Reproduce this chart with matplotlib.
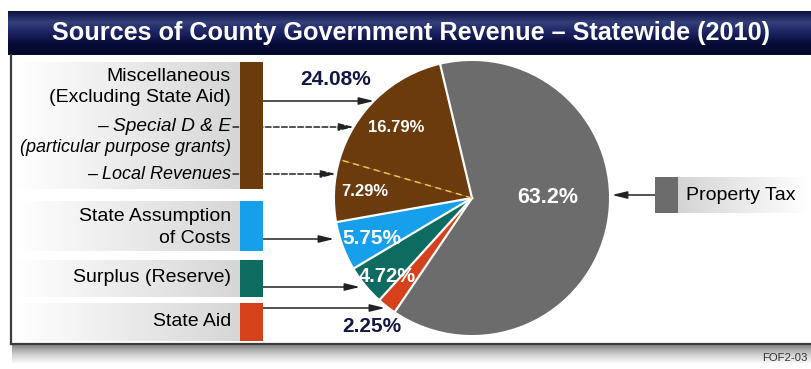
import numpy as np
import matplotlib.pyplot as plt
from matplotlib.colors import LinearSegmentedColormap

W, H = 812, 369

# revenue shares in %, listed clockwise round the pie from the top
sources = ['Property Tax', 'State Aid', 'Surplus (Reserve)',
           'State Assumption of Costs', 'Local Revenues', 'Special D & E']
shares = [63.2, 2.25, 4.72, 5.75, 7.29, 16.79]
misc_total = 24.08   # Special D & E + Local Revenues
colors = ['#6c6c6c', '#d4411b', '#0e6b5f', '#16a0ec', '#6b3a0d', '#6b3a0d']

title = 'Sources of County Government Revenue \u2013 Statewide (2010)'
plain = ['Liberation Sans', 'DejaVu Sans']


def Y(y):
    # pixel rows run downward, the axes run upward
    return H - y


def gradient(ax, x0, x1, y0, y1, stops, vertical=False, z=1):
    ramp = np.linspace(0, 1, 256)
    img = ramp[:, None] if vertical else ramp[None, :]
    cmap = LinearSegmentedColormap.from_list('g', stops)
    ax.imshow(img, cmap=cmap, extent=(x0, x1, Y(y1), Y(y0)), aspect='auto',
              interpolation='bilinear', zorder=z)


fig = plt.figure(figsize=(W / 100, H / 100), dpi=100)
ax = fig.add_axes([0, 0, 1, 1])

# pie
cx, cy, r = 472, 198, 137
start = 103.4
ax.pie(shares, colors=colors, startangle=start, counterclock=False,
       center=(cx, Y(cy)), radius=r, wedgeprops=dict(linewidth=0, zorder=3))

# slice borders: white, dashed yellow between the two Miscellaneous parts
bounds = start - np.cumsum([0] + shares[:-1]) * 3.6
for i, a in enumerate(bounds):
    t = np.radians(a)
    xs = [cx, cx + r * np.cos(t)]
    ys = [Y(cy), Y(cy) + r * np.sin(t)]
    if sources[i] == 'Special D & E':
        ax.plot(xs, ys, color='#f2c24a', lw=1.1, ls=(0, (4, 3)), zorder=4)
    else:
        ax.plot(xs, ys, color='white', lw=1.6, zorder=4)

# title bar
gradient(ax, 8, W, 11, 55, ['#0c1040', '#343f7a', '#1a2260', '#080b35', '#05082a'],
         vertical=True, z=2)
ax.text(411, Y(33), title, color='white', fontsize=18.2, fontweight='bold',
        family=plain, ha='center', va='center', zorder=5)

# panel frame and its shadow
gradient(ax, 12, W, 345, 364, ['#858585', '#d0d0d0', '#ffffff'], vertical=True, z=1)
ax.plot([11, 11], [Y(55), Y(344)], color='#3c3c3c', lw=1.6, zorder=5)
ax.plot([11, W], [Y(344), Y(344)], color='#3c3c3c', lw=1.6, zorder=5)

# left-hand key: gradient boxes, colour swatches, text
rows = [(62, 189, colors[5]), (201, 251, colors[3]), (260, 297, colors[2]), (303, 341, colors[1])]
for y0, y1, c in rows:
    gradient(ax, 16, 240, y0, y1, ['#ffffff', '#d6d6d6'], z=1)
    ax.fill_between([240, 263], Y(y1), Y(y0), color=c, lw=0, zorder=2)

tx = 231
ax.text(tx, Y(76), 'Miscellaneous', fontsize=14, family=plain, ha='right', va='center', zorder=5)
ax.text(tx, Y(97), '(Excluding State Aid)', fontsize=14, family=plain, ha='right', va='center', zorder=5)
ax.text(tx, Y(126), '\u2013 Special D & E', fontsize=13.8, style='italic', family=plain,
        ha='right', va='center', zorder=5)
ax.text(tx, Y(147), '(particular purpose grants)', fontsize=13, style='italic', family=plain,
        ha='right', va='center', zorder=5)
ax.text(tx, Y(174), '\u2013 Local Revenues', fontsize=13, style='italic', family=plain,
        ha='right', va='center', zorder=5)
ax.text(tx, Y(216), 'State Assumption', fontsize=14, family=plain, ha='right', va='center', zorder=5)
ax.text(tx, Y(238), 'of Costs', fontsize=14, family=plain, ha='right', va='center', zorder=5)
ax.text(tx, Y(278), sources[2], fontsize=14, family=plain, ha='right', va='center', zorder=5)
ax.text(tx, Y(322), sources[1], fontsize=14, family=plain, ha='right', va='center', zorder=5)

# leader arrows from the key to the pie (dashed ones pass behind the swatch)
head = '-|>,head_length=0.9,head_width=0.22'
arrows = [(263, 101, 374, 101, '-'), (233, 127, 354, 127, '--'), (233, 174, 336, 174, '--'),
          (263, 239, 334, 239, '-'), (263, 287, 360, 287, '-'), (263, 308, 385, 308, '-')]
for x0, y0, x1, y1, ls in arrows:
    ax.annotate('', xy=(x1, Y(y1)), xytext=(x0, Y(y0)), zorder=1.5,
                arrowprops=dict(arrowstyle=head, color='#222222', lw=1.1, ls=ls,
                                shrinkA=0, shrinkB=0))

# Property Tax key on the right
gradient(ax, 678, 808, 177, 213, ['#d4d4d4', '#ffffff'], z=1)
ax.fill_between([655, 678], Y(213), Y(177), color=colors[0], lw=0, zorder=2)
ax.text(686, Y(195), sources[0], fontsize=14, family=plain, ha='left', va='center', zorder=5)
ax.annotate('', xy=(612, Y(195)), xytext=(655, Y(195)), zorder=1.5,
            arrowprops=dict(arrowstyle=head, color='#222222', lw=1.1, shrinkA=0, shrinkB=0))

# percentage labels
inside = [(548, 197, 15.5), (None, None, 0), (387, 277, 14.5), (372, 238, 15),
          (365, 191, 12), (396, 127, 12)]
for (x, y, fs), v in zip(inside, shares):
    if x is None:
        continue
    ax.text(x, Y(y), f'{v:g}%', color='white', fontsize=fs, fontweight='bold',
            family=plain, ha='center', va='center', zorder=7)
navy = '#141845'
ax.text(336, Y(79), f'{misc_total:.2f}%', color=navy, fontsize=15, fontweight='bold',
        family=plain, ha='center', va='center', zorder=7)
ax.text(372, Y(327), f'{shares[1]:.2f}%', color=navy, fontsize=15, fontweight='bold',
        family=plain, ha='center', va='center', zorder=7)

ax.text(808, Y(358), 'FOF2-03', fontsize=8.2, family=plain, color='#333333',
        ha='right', va='center', zorder=7)

ax.set_xlim(0, W)
ax.set_ylim(0, H)
ax.set_aspect('equal')
ax.axis('off')
fig.savefig('out.png', dpi=100)
